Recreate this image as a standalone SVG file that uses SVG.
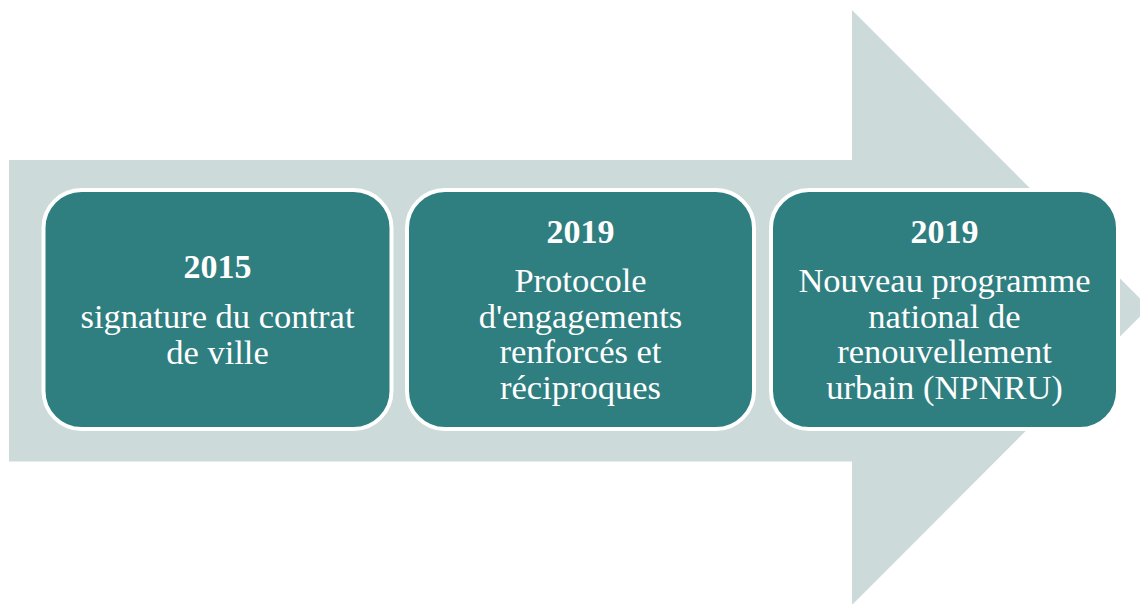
<svg xmlns="http://www.w3.org/2000/svg" width="1140" height="604" viewBox="0 0 1140 604">
  <style>
    .box { fill: #2F7E80; stroke: #FFFFFF; stroke-width: 4; }
    .year { font-family: "Liberation Serif", "Times New Roman", serif; font-weight: bold; font-size: 34px; fill: #FFFFFF; text-anchor: middle; }
    .desc { font-family: "Liberation Serif", "Times New Roman", serif; font-size: 34.5px; fill: #FFFFFF; text-anchor: middle; }
  </style>
  <rect width="1140" height="604" fill="#FFFFFF"/>

  <!-- Background timeline arrow -->
  <g id="timeline-arrow">
    <polygon points="9,160 852,160 852,10 1149,307.5 852,605 852,461.5 9,461.5" fill="#CDDADA"/>
  </g>

  <!-- Milestone 2015 -->
  <g id="step-2015">
    <rect class="box" x="43.5" y="190" width="348" height="239" rx="38" ry="38"/>
    <text class="year" x="217.5" y="278">2015</text>
    <text class="desc" x="217.5" y="328">signature du contrat</text>
    <text class="desc" x="217.5" y="363.5">de ville</text>
  </g>

  <!-- Milestone 2019: protocol -->
  <g id="step-2019-protocole">
    <rect class="box" x="407" y="190" width="347" height="239" rx="38" ry="38"/>
    <text class="year" x="580.5" y="243">2019</text>
    <text class="desc" x="580.5" y="292">Protocole</text>
    <text class="desc" x="580.5" y="327.5">d'engagements</text>
    <text class="desc" x="580.5" y="363">renforcés et</text>
    <text class="desc" x="580.5" y="398.5">réciproques</text>
  </g>

  <!-- Milestone 2019: NPNRU -->
  <g id="step-2019-npnru">
    <rect class="box" x="771" y="190" width="347" height="239" rx="38" ry="38"/>
    <text class="year" x="944.5" y="243">2019</text>
    <text class="desc" x="944.5" y="292">Nouveau programme</text>
    <text class="desc" x="944.5" y="327.5">national de</text>
    <text class="desc" x="944.5" y="363">renouvellement</text>
    <text class="desc" x="944.5" y="398.5">urbain (NPNRU)</text>
  </g>

  <g id="connectors"/>
</svg>
